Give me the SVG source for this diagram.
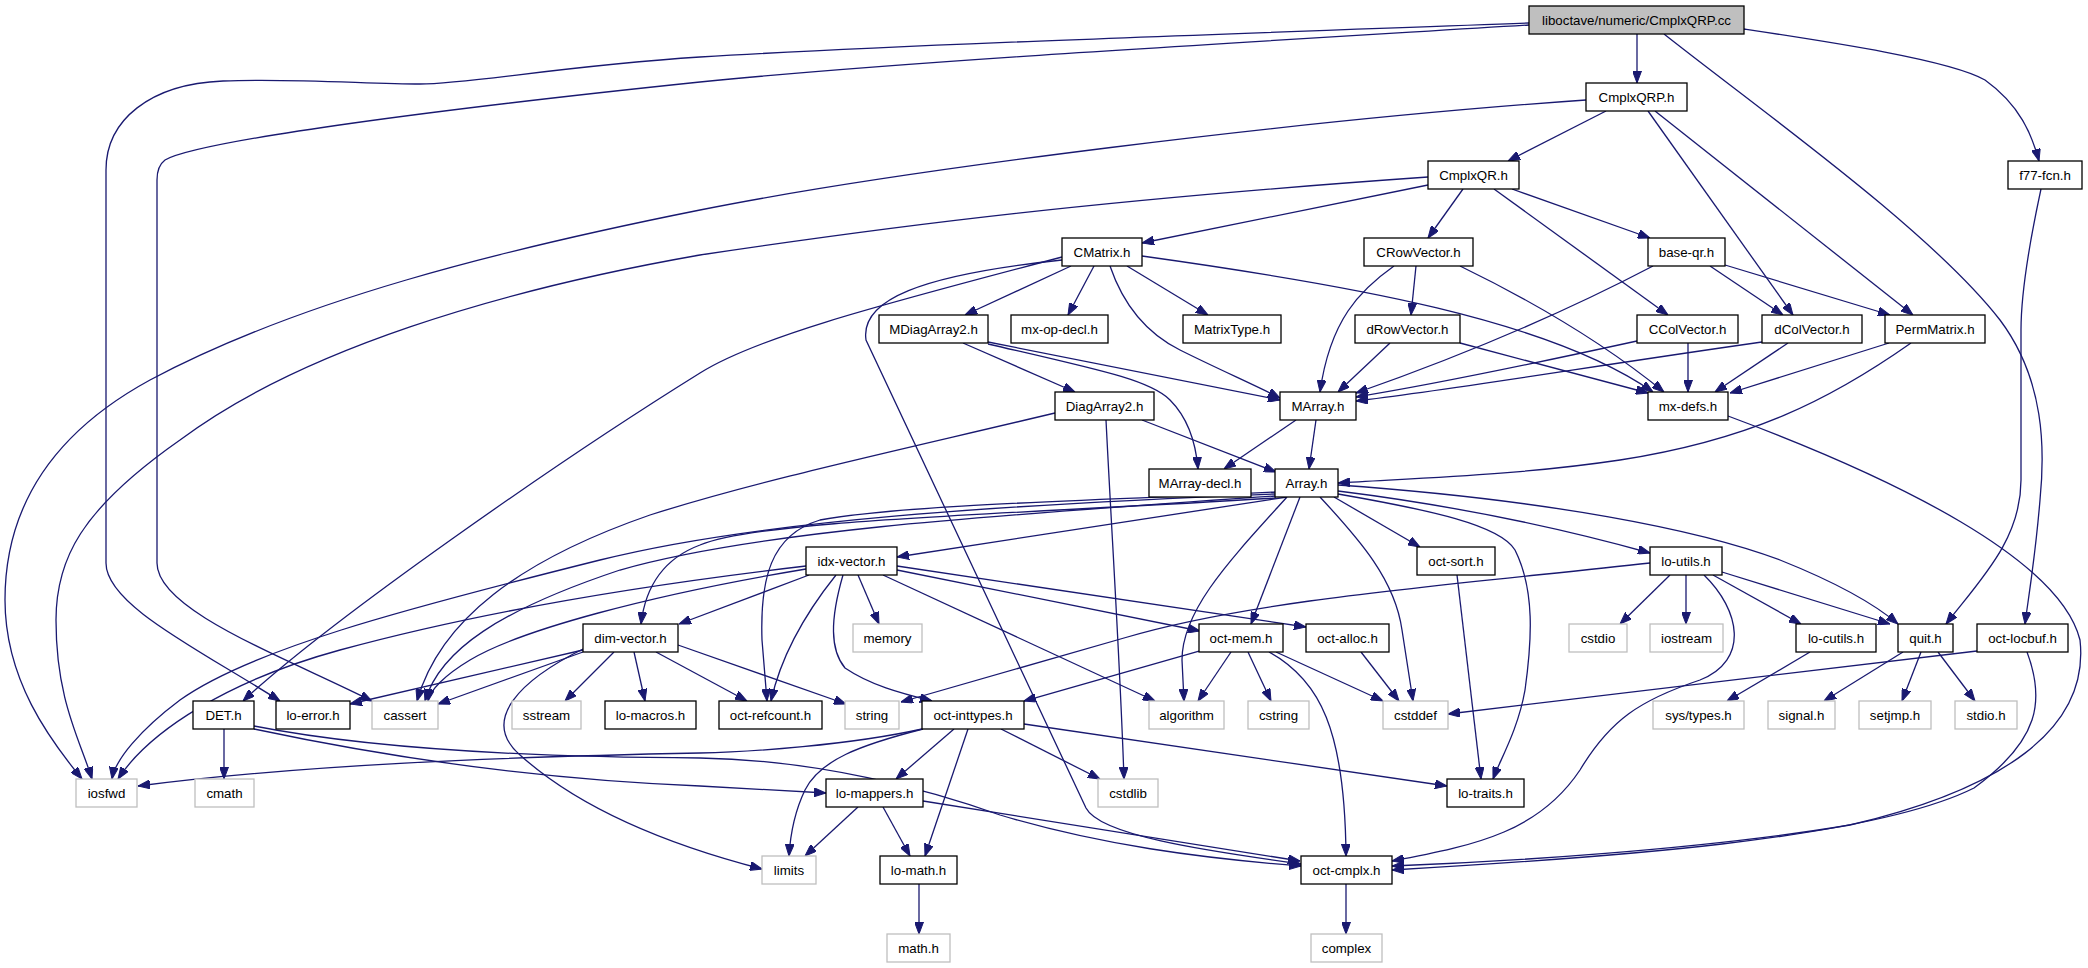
<svg xmlns="http://www.w3.org/2000/svg" width="2088" height="968" viewBox="0 0 2088 968">
<defs>
<marker id="a" viewBox="0 0 12 9" refX="12" refY="4.5" markerWidth="12" markerHeight="9" markerUnits="userSpaceOnUse" orient="auto"><path d="M0,0L12,4.5L0,9z" fill="#191970" stroke="#191970" stroke-width="1"/></marker>
</defs>
<style>
.n rect{fill:#fff;stroke:#000;stroke-width:1.3}
.s rect{fill:#fff;stroke:#bfbfbf;stroke-width:1.3}
.r rect{fill:#bfbfbf;stroke:#000;stroke-width:1.3}
text{font-family:"Liberation Sans",Arial,sans-serif;font-size:13.3px;fill:#000;text-anchor:middle}
#edges path{fill:none;stroke:#191970;stroke-width:1.3;marker-end:url(#a)}
</style>
<rect width="2088" height="968" fill="#fff"/>
<g id="edges">
<path d="M1637,34L1637,83"/>
<path d="M1744,29C1830,42 1950,60 1985,80C2020,105 2032,135 2039,161"/>
<path d="M1664,34C1760,110 1930,230 2000,320C2045,380 2045,450 2040,500C2035,560 2028,600 2025,624"/>
<path d="M1529,23C1200,35 900,45 700,57C560,66 470,84 420,84C370,84 290,78 223,81C150,84 106,120 106,170L106,563C106,605 200,650 280,701"/>
<path d="M1529,25C1200,45 900,62 700,82C450,108 200,140 165,160C157,166 157,175 157,180L157,563C157,610 280,655 372,701"/>
<path d="M1606,111L1508,161"/>
<path d="M1586,100C1300,120 900,170 700,210C500,250 300,300 150,380C40,440 5,520 5,600C5,680 50,740 82,779"/>
<path d="M1648,111L1793,315"/>
<path d="M1655,111L1913,315"/>
<path d="M1428,185L1142,243"/>
<path d="M1463,189L1428,238"/>
<path d="M1494,189L1668,315"/>
<path d="M1512,189L1650,238"/>
<path d="M1428,177C1100,200 900,225 700,255C500,290 300,350 180,440C80,510 56,560 56,620C56,700 80,740 92,779"/>
<path d="M2041,189C2030,240 2021,290 2021,330L2021,480C2021,540 1980,580 1946,624"/>
<path d="M1071,266L965,315"/>
<path d="M1094,266L1068,315"/>
<path d="M1127,266L1208,315"/>
<path d="M1110,266C1125,310 1150,335 1180,350C1220,370 1255,385 1280,398"/>
<path d="M1142,256C1350,285 1550,320 1653,392"/>
<path d="M1062,257C900,300 760,335 700,373C560,460 330,620 243,701"/>
<path d="M1062,260C920,275 860,300 866,340L1086,808C1100,835 1200,850 1301,864"/>
<path d="M1416,266L1411,315"/>
<path d="M1394,266C1360,290 1330,320 1320,392"/>
<path d="M1460,266C1530,300 1600,340 1664,392"/>
<path d="M1653,266C1550,320 1450,360 1356,393"/>
<path d="M1710,266L1783,315"/>
<path d="M1725,265L1890,315"/>
<path d="M963,343L1075,392"/>
<path d="M988,342L1280,400"/>
<path d="M988,344C1100,370 1150,380 1170,400C1190,420 1196,445 1198,469"/>
<path d="M1390,343L1338,392"/>
<path d="M1460,343L1648,393"/>
<path d="M1637,341C1550,360 1430,385 1356,397"/>
<path d="M1688,343L1688,392"/>
<path d="M1762,342C1600,365 1450,390 1356,401"/>
<path d="M1788,343L1715,392"/>
<path d="M1889,343L1730,393"/>
<path d="M1911,343C1830,400 1750,440 1620,460C1520,475 1420,478 1338,483"/>
<path d="M1142,420L1276,472"/>
<path d="M1055,413C900,450 760,480 650,515C520,560 440,620 417,701"/>
<path d="M1106,420C1112,540 1120,660 1124,779"/>
<path d="M1296,420L1224,469"/>
<path d="M1316,420L1309,469"/>
<path d="M1287,497L897,557"/>
<path d="M1275,494C1000,505 760,520 600,560C400,610 250,650 180,700C140,730 115,760 112,779"/>
<path d="M1275,496C1000,515 760,530 620,570C500,610 440,650 425,701"/>
<path d="M1276,498C1000,515 760,520 700,545C660,560 645,590 641,624"/>
<path d="M1276,492C1100,500 900,505 820,520C770,535 760,580 762,640L767,701"/>
<path d="M1287,497C1230,560 1182,610 1182,660L1184,701"/>
<path d="M1300,497L1251,624"/>
<path d="M1320,497C1360,540 1395,580 1402,630L1413,701"/>
<path d="M1334,497L1420,547"/>
<path d="M1338,491C1450,505 1550,525 1650,553"/>
<path d="M1338,485C1550,500 1700,530 1780,560C1830,580 1870,600 1898,624"/>
<path d="M1338,494C1430,510 1500,525 1515,550C1535,590 1532,640 1525,690C1518,730 1500,760 1493,779"/>
<path d="M1457,575L1481,779"/>
<path d="M1650,563C1450,585 1250,600 1124,638C1040,662 960,685 901,702"/>
<path d="M1670,575L1620,624"/>
<path d="M1686,575L1686,624"/>
<path d="M1704,575C1740,610 1750,660 1700,680C1640,700 1610,720 1580,770C1540,830 1480,845 1392,861"/>
<path d="M1713,575L1801,624"/>
<path d="M1722,572L1890,624"/>
<path d="M583,650L350,704"/>
<path d="M583,652L438,704"/>
<path d="M585,648C520,680 480,720 520,755C570,800 650,840 762,869"/>
<path d="M614,652L565,701"/>
<path d="M634,652L645,701"/>
<path d="M656,652L747,701"/>
<path d="M678,645L846,704"/>
<path d="M806,566C600,590 450,620 340,650C230,680 150,730 118,779"/>
<path d="M806,569C650,595 520,630 470,660C445,675 430,690 428,701"/>
<path d="M809,575L679,624"/>
<path d="M836,575C800,620 780,660 771,701"/>
<path d="M843,575C830,620 830,650 845,668C870,685 900,693 932,701"/>
<path d="M858,575L879,624"/>
<path d="M883,575L1155,701"/>
<path d="M897,570L1200,631"/>
<path d="M897,566L1306,627"/>
<path d="M1199,651L1024,701"/>
<path d="M1231,652L1198,701"/>
<path d="M1248,652L1271,701"/>
<path d="M1269,652C1320,680 1345,730 1346,856"/>
<path d="M1276,652L1383,701"/>
<path d="M1361,652L1399,701"/>
<path d="M922,729C850,745 750,752 700,753C500,757 300,765 138,786"/>
<path d="M923,729C860,745 820,760 805,790C793,815 790,840 789,856"/>
<path d="M954,729L896,779"/>
<path d="M968,729L925,856"/>
<path d="M1001,729L1100,779"/>
<path d="M1024,724L1447,786"/>
<path d="M858,807L805,856"/>
<path d="M883,807L910,856"/>
<path d="M923,801L1300,861"/>
<path d="M919,884L919,934"/>
<path d="M1346,884L1346,934"/>
<path d="M224,729L224,779"/>
<path d="M254,729C400,760 550,780 700,786L826,793"/>
<path d="M254,726C350,745 500,757 700,758C820,760 930,790 1000,815C1100,845 1200,858 1301,866"/>
<path d="M1728,416C1900,480 2060,560 2080,640C2090,730 2000,790 1850,825C1700,850 1500,862 1392,866"/>
<path d="M2027,652C2045,700 2040,740 1974,788C1870,840 1600,858 1392,870"/>
<path d="M1977,651L1448,714"/>
<path d="M1903,652L1824,701"/>
<path d="M1921,652L1902,701"/>
<path d="M1938,652L1975,701"/>
<path d="M1810,652L1727,701"/>
</g>
<g id="n_top" class="r"><rect x="1529" y="6" width="215" height="28"/><text x="1636.5" y="25">liboctave/numeric/CmplxQRP.cc</text></g>
<g id="n_CmplxQRP_h" class="n"><rect x="1586" y="83" width="101" height="28"/><text x="1636.5" y="102">CmplxQRP.h</text></g>
<g id="n_CmplxQR_h" class="n"><rect x="1428" y="161" width="91" height="28"/><text x="1473.5" y="180">CmplxQR.h</text></g>
<g id="n_f77_fcn_h" class="n"><rect x="2008" y="161" width="74" height="28"/><text x="2045" y="180">f77-fcn.h</text></g>
<g id="n_CMatrix_h" class="n"><rect x="1062" y="238" width="80" height="28"/><text x="1102" y="257">CMatrix.h</text></g>
<g id="n_CRowVector_h" class="n"><rect x="1364" y="238" width="109" height="28"/><text x="1418.5" y="257">CRowVector.h</text></g>
<g id="n_base_qr_h" class="n"><rect x="1648" y="238" width="77" height="28"/><text x="1686.5" y="257">base-qr.h</text></g>
<g id="n_MDiagArray2_h" class="n"><rect x="879" y="315" width="109" height="28"/><text x="933.5" y="334">MDiagArray2.h</text></g>
<g id="n_mx_op_decl_h" class="n"><rect x="1011" y="315" width="97" height="28"/><text x="1059.5" y="334">mx-op-decl.h</text></g>
<g id="n_MatrixType_h" class="n"><rect x="1183" y="315" width="98" height="28"/><text x="1232" y="334">MatrixType.h</text></g>
<g id="n_dRowVector_h" class="n"><rect x="1355" y="315" width="105" height="28"/><text x="1407.5" y="334">dRowVector.h</text></g>
<g id="n_CColVector_h" class="n"><rect x="1637" y="315" width="101" height="28"/><text x="1687.5" y="334">CColVector.h</text></g>
<g id="n_dColVector_h" class="n"><rect x="1762" y="315" width="100" height="28"/><text x="1812" y="334">dColVector.h</text></g>
<g id="n_PermMatrix_h" class="n"><rect x="1885" y="315" width="100" height="28"/><text x="1935" y="334">PermMatrix.h</text></g>
<g id="n_DiagArray2_h" class="n"><rect x="1055" y="392" width="99" height="28"/><text x="1104.5" y="411">DiagArray2.h</text></g>
<g id="n_MArray_h" class="n"><rect x="1280" y="392" width="76" height="28"/><text x="1318" y="411">MArray.h</text></g>
<g id="n_mx_defs_h" class="n"><rect x="1648" y="392" width="80" height="28"/><text x="1688" y="411">mx-defs.h</text></g>
<g id="n_MArray_decl_h" class="n"><rect x="1149" y="469" width="102" height="28"/><text x="1200" y="488">MArray-decl.h</text></g>
<g id="n_Array_h" class="n"><rect x="1275" y="469" width="63" height="28"/><text x="1306.5" y="488">Array.h</text></g>
<g id="n_idx_vector_h" class="n"><rect x="806" y="547" width="91" height="28"/><text x="851.5" y="566">idx-vector.h</text></g>
<g id="n_oct_sort_h" class="n"><rect x="1417" y="547" width="78" height="28"/><text x="1456" y="566">oct-sort.h</text></g>
<g id="n_lo_utils_h" class="n"><rect x="1650" y="547" width="72" height="28"/><text x="1686" y="566">lo-utils.h</text></g>
<g id="n_dim_vector_h" class="n"><rect x="583" y="624" width="95" height="28"/><text x="630.5" y="643">dim-vector.h</text></g>
<g id="n_memory" class="s"><rect x="853" y="624" width="69" height="28"/><text x="887.5" y="643">memory</text></g>
<g id="n_oct_mem_h" class="n"><rect x="1199" y="624" width="84" height="28"/><text x="1241" y="643">oct-mem.h</text></g>
<g id="n_oct_alloc_h" class="n"><rect x="1306" y="624" width="83" height="28"/><text x="1347.5" y="643">oct-alloc.h</text></g>
<g id="n_cstdio" class="s"><rect x="1569" y="624" width="58" height="28"/><text x="1598" y="643">cstdio</text></g>
<g id="n_iostream" class="s"><rect x="1650" y="624" width="73" height="28"/><text x="1686.5" y="643">iostream</text></g>
<g id="n_lo_cutils_h" class="n"><rect x="1796" y="624" width="80" height="28"/><text x="1836" y="643">lo-cutils.h</text></g>
<g id="n_quit_h" class="n"><rect x="1898" y="624" width="55" height="28"/><text x="1925.5" y="643">quit.h</text></g>
<g id="n_oct_locbuf_h" class="n"><rect x="1977" y="624" width="91" height="28"/><text x="2022.5" y="643">oct-locbuf.h</text></g>
<g id="n_DET_h" class="n"><rect x="193" y="701" width="61" height="28"/><text x="223.5" y="720">DET.h</text></g>
<g id="n_lo_error_h" class="n"><rect x="276" y="701" width="74" height="28"/><text x="313" y="720">lo-error.h</text></g>
<g id="n_cassert" class="s"><rect x="372" y="701" width="66" height="28"/><text x="405" y="720">cassert</text></g>
<g id="n_sstream" class="s"><rect x="512" y="701" width="69" height="28"/><text x="546.5" y="720">sstream</text></g>
<g id="n_lo_macros_h" class="n"><rect x="605" y="701" width="91" height="28"/><text x="650.5" y="720">lo-macros.h</text></g>
<g id="n_oct_refcount_h" class="n"><rect x="719" y="701" width="103" height="28"/><text x="770.5" y="720">oct-refcount.h</text></g>
<g id="n_string" class="s"><rect x="845" y="701" width="54" height="28"/><text x="872" y="720">string</text></g>
<g id="n_oct_inttypes_h" class="n"><rect x="922" y="701" width="102" height="28"/><text x="973" y="720">oct-inttypes.h</text></g>
<g id="n_algorithm" class="s"><rect x="1149" y="701" width="75" height="28"/><text x="1186.5" y="720">algorithm</text></g>
<g id="n_cstring" class="s"><rect x="1248" y="701" width="61" height="28"/><text x="1278.5" y="720">cstring</text></g>
<g id="n_cstddef" class="s"><rect x="1383" y="701" width="65" height="28"/><text x="1415.5" y="720">cstddef</text></g>
<g id="n_sys_types_h" class="s"><rect x="1653" y="701" width="91" height="28"/><text x="1698.5" y="720">sys/types.h</text></g>
<g id="n_signal_h" class="s"><rect x="1768" y="701" width="67" height="28"/><text x="1801.5" y="720">signal.h</text></g>
<g id="n_setjmp_h" class="s"><rect x="1859" y="701" width="72" height="28"/><text x="1895" y="720">setjmp.h</text></g>
<g id="n_stdio_h" class="s"><rect x="1955" y="701" width="62" height="28"/><text x="1986" y="720">stdio.h</text></g>
<g id="n_iosfwd" class="s"><rect x="76" y="779" width="61" height="28"/><text x="106.5" y="798">iosfwd</text></g>
<g id="n_cmath" class="s"><rect x="195" y="779" width="59" height="28"/><text x="224.5" y="798">cmath</text></g>
<g id="n_lo_mappers_h" class="n"><rect x="826" y="779" width="97" height="28"/><text x="874.5" y="798">lo-mappers.h</text></g>
<g id="n_cstdlib" class="s"><rect x="1098" y="779" width="60" height="28"/><text x="1128" y="798">cstdlib</text></g>
<g id="n_lo_traits_h" class="n"><rect x="1447" y="779" width="77" height="28"/><text x="1485.5" y="798">lo-traits.h</text></g>
<g id="n_limits" class="s"><rect x="762" y="856" width="54" height="28"/><text x="789" y="875">limits</text></g>
<g id="n_lo_math_h" class="n"><rect x="880" y="856" width="77" height="28"/><text x="918.5" y="875">lo-math.h</text></g>
<g id="n_oct_cmplx_h" class="n"><rect x="1301" y="856" width="91" height="28"/><text x="1346.5" y="875">oct-cmplx.h</text></g>
<g id="n_math_h" class="s"><rect x="887" y="934" width="63" height="28"/><text x="918.5" y="953">math.h</text></g>
<g id="n_complex" class="s"><rect x="1311" y="934" width="71" height="28"/><text x="1346.5" y="953">complex</text></g>
</svg>
